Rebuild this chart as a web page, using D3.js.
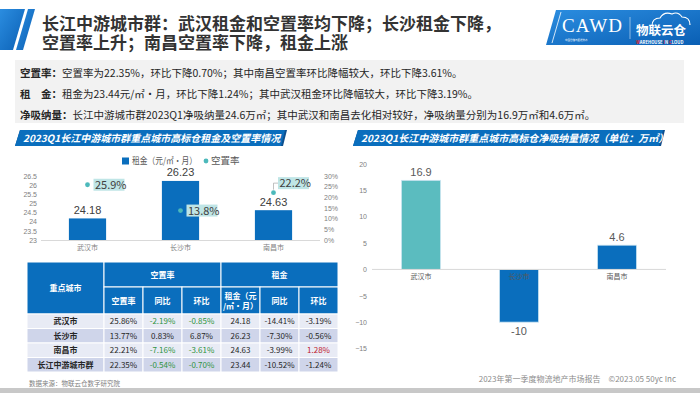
<!DOCTYPE html>
<html>
<head>
<meta charset="utf-8">
<script src="https://cdn.jsdelivr.net/npm/d3@7/dist/d3.min.js"></script>
<style>
	body{margin:0;background:#ffffff;}
	svg{display:block;font-family:"Noto Sans CJK SC","Noto Sans",sans-serif;}
</style>
</head>
<body>
<div class="slide"></div>
<script>

	// chart data
	var cities = ["武汉市", "长沙市", "南昌市"];
	var rentValues = [24.18, 26.23, 24.63];
	var vacancyValues = [0.259, 0.138, 0.222];
	var rentTicks = [23, 23.5, 24, 24.5, 25, 25.5, 26, 26.5];
	var vacancyTicks = [0, 0.05, 0.1, 0.15, 0.2, 0.25, 0.3];
	var absorbValues = [16.9, -10, 4.6];
	var absorbTicks = [-15, -10, -5, 0, 5, 10, 15, 20];

	// table data
	var tableCities = ["武汉市", "长沙市", "南昌市", "长江中游城市群"];
	var tableVacancy = [25.86, 13.77, 22.21, 22.35];
	var tableVacYoY = [-2.19, 0.83, -7.16, -0.54];
	var tableVacQoQ = [-0.85, 6.87, -3.61, -0.70];
	var tableRent = [24.18, 26.23, 24.63, 23.44];
	var tableRentYoY = [-14.41, -7.30, -3.99, -10.52];
	var tableRentQoQ = [-3.19, -0.56, 1.28, -1.24];
	var tableSubHeads = ["空置率", "同比", "环比", "租金（元|/㎡·月）", "同比", "环比"];

	// texts
	var titleLines = ["长江中游城市群：武汉租金和空置率均下降；长沙租金下降，", "空置率上升；南昌空置率下降，租金上涨"];
	var summaryLines = [
		["空置率：", "空置率为22.35%，环比下降0.70%；其中南昌空置率环比降幅较大，环比下降3.61%。"],
		["租　金：", "租金为23.44元/㎡·月，环比下降1.24%；其中武汉租金环比降幅较大，环比下降3.19%。"],
		["净吸纳量：", "长江中游城市群2023Q1净吸纳量24.6万㎡；其中武汉和南昌去化相对较好，净吸纳量分别为16.9万㎡和4.6万㎡。"]
	];

	var blue = "#0a6ebd";
	var teal = "#4cb9bb";
	var numFont = "'Liberation Sans', Arial, sans-serif";

	var svg = d3.select(".slide")
		.append("svg")
		.attr("width", 700)
		.attr("height", 393);

	var defs = svg.append("defs");
	var grad = defs.append("linearGradient").attr("id", "blueGrad")
		.attr("x1", "0").attr("y1", "0").attr("x2", "1").attr("y2", "1");
	grad.append("stop").attr("offset", "0%").attr("stop-color", "#2b8de0");
	grad.append("stop").attr("offset", "100%").attr("stop-color", "#0a5fb4");

	drawHeader();
	drawSummary();
	drawRentChart();
	drawTable();
	drawAbsorbChart();
	drawFooter();

// title, icon and logo
function drawHeader(){
	svg.append("polygon")
		.attr("points", "0,9 25,9 13,50 0,50")
		.attr("fill", "url(#blueGrad)");
	svg.append("polygon")
		.attr("points", "28,9 35,9 23,50 16,50")
		.attr("fill", "url(#blueGrad)");

	// two-line title as one text block
	svg.append("text")
		.attr("class", "title")
		.attr("y", 30)
		.attr("font-size", "17px")
		.attr("font-weight", "bold")
		.attr("fill", "#333333")
		.selectAll("tspan")
		.data(titleLines)
		.enter()
		.append("tspan")
		.attr("x", 42)
		.attr("dy", function(d, i){ return i == 0 ? 0 : 19; })
		.text(function(d){ return d; });

	// logo box
	var logo = svg.append("g");
	logo.append("polygon")
		.attr("points", "556,10 700,10 700,45 546,45")
		.attr("fill", "url(#blueGrad)");
	logo.append("line")
		.attr("x1", 561).attr("y1", 12).attr("x2", 552).attr("y2", 43)
		.attr("stroke", "#ffffff").attr("stroke-width", 0.8);
	logo.append("text")
		.attr("x", 562).attr("y", 32)
		.attr("font-family", "'Liberation Serif', serif")
		.attr("font-size", "19px")
		.attr("fill", "#ffffff")
		.attr("textLength", 60)
		.text("CAWD");
	logo.append("text")
		.attr("x", 565).attr("y", 41)
		.attr("font-size", "2.5px")
		.attr("fill", "#ffffff")
		.text("中国仓储与配送协会");
	logo.append("line")
		.attr("x1", 630).attr("y1", 17).attr("x2", 630).attr("y2", 39)
		.attr("stroke", "#ffffff").attr("stroke-opacity", 0.5);
	logo.append("path")
		.attr("d", "M652,26 q0,-8 8,-8 q4,-7 12,-4 q6,-3 10,3 q8,0 8,8")
		.attr("fill", "none").attr("stroke", "#ffffff").attr("stroke-width", 1.2);
	logo.append("text")
		.attr("x", 636).attr("y", 35)
		.attr("font-size", "12.5px")
		.attr("font-weight", "bold")
		.attr("fill", "#ffffff")
		.text("物联云仓");
	var sub = logo.append("text")
		.attr("x", 636).attr("y", 43.5)
		.attr("font-size", "4.2px")
		.attr("font-weight", "bold")
		.attr("fill", "#ffffff");
	[["W", "#e2262f"], ["AREHOUSE ", "#ffffff"], ["I", "#e2262f"], ["N ", "#ffffff"], ["C", "#e2262f"], ["LOUD", "#ffffff"]]
		.forEach(function(p){
			sub.append("tspan").attr("fill", p[1]).text(p[0]);
		});
}

// grey box with the three summary lines
function drawSummary(){
	svg.append("rect")
		.attr("x", 15).attr("y", 60)
		.attr("width", 669).attr("height", 63)
		.attr("fill", "#f2f2f2");

	var lines = svg.selectAll(".summary")
		.data(summaryLines)
		.enter()
		.append("text")
		.attr("class", "summary")
		.attr("x", 20)
		.attr("y", function(d, i){ return 77 + i*21; })
		.attr("font-size", "10.5px")
		.attr("fill", "#262626");
	lines.append("tspan").attr("font-weight", "bold").text(function(d){ return d[0]; });
	lines.append("tspan").text(function(d){ return d[1]; });
}

// section banner
function banner(x, y, w, label){
	svg.append("polygon")
		.attr("points", [[x+5, y], [x+w+2, y], [x+w-2, y+16], [x, y+16]].join(" "))
		.attr("fill", "#0d4f8f");
	svg.append("polygon")
		.attr("points", [[x+5, y], [x+w, y], [x+w-4, y+16], [x, y+16]].join(" "))
		.attr("fill", blue);
	svg.append("text")
		.attr("x", x+8).attr("y", y+12)
		.attr("font-size", "10px")
		.attr("font-weight", "bold")
		.attr("font-style", "italic")
		.attr("fill", "#ffffff")
		.text(label);
}

// left chart: rent bars + vacancy dots
function drawRentChart(){
	banner(15, 130, 270, "2023Q1长江中游城市群重点城市高标仓租金及空置率情况");

	var x = d3.scaleBand().domain(cities).range([41, 320]).paddingInner(0.6).paddingOuter(0.3);
	var y = d3.scaleLinear().domain([23, 26.5]).range([240, 176]);
	var yR = d3.scaleLinear().domain([0, 0.3]).range([240, 176]);

	var axL = svg.append("g")
		.attr("transform", "translate(40,0)")
		.call(d3.axisLeft(y).tickValues(rentTicks).tickSize(0).tickPadding(3).tickFormat(d3.format("")));
	var axR = svg.append("g")
		.attr("transform", "translate(320,0)")
		.call(d3.axisRight(yR).tickValues(vacancyTicks).tickSize(0).tickPadding(4).tickFormat(d3.format(".0%")));
	[axL, axR].forEach(function(a){
		a.select(".domain").remove();
		a.selectAll("text").attr("font-size", "7px").attr("fill", "#7f7f7f").attr("font-family", "inherit");
	});

	svg.append("line")
		.attr("x1", 41).attr("x2", 320)
		.attr("y1", 240.5).attr("y2", 240.5)
		.attr("stroke", "#d9d9d9");

	svg.selectAll(".rentBar")
		.data(rentValues)
		.enter()
		.append("rect")
		.attr("class", "rentBar")
		.attr("x", function(d, i){ return x(cities[i]); })
		.attr("width", x.bandwidth())
		.attr("y", function(d){ return y(d); })
		.attr("height", function(d){ return 240 - y(d); })
		.attr("fill", blue);

	svg.selectAll(".rentLabel")
		.data(rentValues)
		.enter()
		.append("text")
		.attr("class", "rentLabel")
		.attr("text-anchor", "middle")
		.attr("x", function(d, i){ return x(cities[i]) + x.bandwidth()/2; })
		.attr("y", function(d){ return y(d) - 4.5; })
		.attr("font-family", numFont)
		.attr("font-size", "11px")
		.attr("fill", "#404040")
		.text(function(d){ return d.toFixed(2); });

	svg.selectAll(".cat")
		.data(cities)
		.enter()
		.append("text")
		.attr("class", "cat")
		.attr("text-anchor", "middle")
		.attr("x", function(d){ return x(d) + x.bandwidth()/2; })
		.attr("y", 250)
		.attr("font-size", "7px")
		.attr("fill", "#7f7f7f")
		.text(function(d){ return d; });

	// vacancy labels
	vacancyValues.forEach(function(v, i){
		var cx = x(cities[i]) + x.bandwidth()/2;
		var cy = yR(v);
		var bx = cx + 6, by = cy - 6;
		if(i == 2){
			bx = cx + 4.5; by = cy - 15.5;
			svg.append("polyline")
				.attr("points", [[cx, cy-3], [cx, by+6], [bx, by+6]].join(" "))
				.attr("fill", "none")
				.attr("stroke", "#a6a6a6")
				.attr("stroke-width", 0.7);
		}
		svg.append("rect")
			.attr("x", bx).attr("y", by)
			.attr("width", 31).attr("height", 12)
			.attr("fill", "#bfe5e6");
		svg.append("text")
			.attr("x", bx + 1.5).attr("y", by + 10)
			.attr("font-size", "11px")
			.attr("fill", "#404040")
			.text(d3.format(".1%")(v));
		svg.append("circle")
			.attr("cx", cx).attr("cy", cy)
			.attr("r", 2.4)
			.attr("fill", teal);
	});

	// legend
	svg.append("rect")
		.attr("x", 122).attr("y", 157.5)
		.attr("width", 7).attr("height", 7)
		.attr("fill", blue);
	svg.append("text")
		.attr("x", 132).attr("y", 164.3)
		.attr("font-size", "9px")
		.attr("fill", "#595959")
		.attr("textLength", 65)
		.attr("lengthAdjust", "spacingAndGlyphs")
		.text("租金（元/㎡·月）");
	svg.append("circle")
		.attr("cx", 206).attr("cy", 161)
		.attr("r", 2.4)
		.attr("fill", teal);
	svg.append("text")
		.attr("x", 211).attr("y", 164.3)
		.attr("font-size", "9.5px")
		.attr("fill", "#595959")
		.text("空置率");
}

// table under the left chart
function drawTable(){
	var colX = [27, 104, 143, 182, 221, 260, 299, 338];
	var rowY = [314, 328.5, 343, 357.5, 372];
	var pct = function(v){ return v.toFixed(2) + "%"; };
	var green = "#2f9340", red = "#c0202e";

	var g = svg.append("g").attr("font-size", "8px");

	// header cells
	var heads = [
		{x0: 0, x1: 1, y0: 262, y1: 314, t: "重点城市"},
		{x0: 1, x1: 4, y0: 262, y1: 287, t: "空置率"},
		{x0: 4, x1: 7, y0: 262, y1: 287, t: "租金"}
	];
	tableSubHeads.forEach(function(t, i){
		heads.push({x0: i+1, x1: i+2, y0: 287, y1: 314, t: t});
	});
	heads.forEach(function(h){
		g.append("rect")
			.attr("x", colX[h.x0]).attr("y", h.y0)
			.attr("width", colX[h.x1] - colX[h.x0]).attr("height", h.y1 - h.y0)
			.attr("fill", blue)
			.attr("stroke", "#ffffff").attr("stroke-width", 1);
		var parts = h.t.split("|");
		parts.forEach(function(p, k){
			g.append("text")
				.attr("text-anchor", "middle")
				.attr("x", (colX[h.x0] + colX[h.x1]) / 2)
				.attr("y", (h.y0 + h.y1) / 2 + 3 + (k - (parts.length - 1) / 2) * 10)
				.attr("font-weight", "bold")
				.attr("fill", "#ffffff")
				.text(p);
		});
	});

	tableCities.forEach(function(c, r){
		var cells = [
			[c, "#262626"],
			[pct(tableVacancy[r]), "#262626"],
			[pct(tableVacYoY[r]), tableVacYoY[r] < 0 ? green : "#262626"],
			[pct(tableVacQoQ[r]), tableVacQoQ[r] < 0 ? green : "#262626"],
			[tableRent[r].toFixed(2), "#262626"],
			[pct(tableRentYoY[r]), tableRentYoY[r] > 0 ? red : "#262626"],
			[pct(tableRentQoQ[r]), tableRentQoQ[r] > 0 ? red : "#262626"]
		];
		cells.forEach(function(cell, k){
			g.append("rect")
				.attr("x", colX[k]).attr("y", rowY[r])
				.attr("width", colX[k+1] - colX[k]).attr("height", rowY[r+1] - rowY[r])
				.attr("fill", r % 2 == 0 ? "#e8ebf5" : "#cfd5ea")
				.attr("stroke", "#ffffff").attr("stroke-width", 1);
			g.append("text")
				.attr("text-anchor", "middle")
				.attr("x", (colX[k] + colX[k+1]) / 2)
				.attr("y", (rowY[r] + rowY[r+1]) / 2 + 3)
				.attr("font-weight", k == 0 ? "bold" : "normal")
				.attr("fill", cell[1])
				.text(cell[0]);
		});
	});

	svg.append("text")
		.attr("x", 29).attr("y", 386)
		.attr("font-size", "6.5px")
		.attr("fill", "#7f7f7f")
		.text("数据来源：物联云仓数字研究院");
}

// right chart: net absorption
function drawAbsorbChart(){
	banner(353, 130, 310, "2023Q1长江中游城市群重点城市高标仓净吸纳量情况（单位：万㎡）");

	var x = d3.scaleBand().domain(cities).range([372, 666]).paddingInner(0.6).paddingOuter(0.3);
	var y = d3.scaleLinear().domain([-15, 20]).range([348.5, 164]);

	var ax = svg.append("g")
		.attr("transform", "translate(371,0)")
		.call(d3.axisLeft(y).tickValues(absorbTicks).tickSize(0).tickPadding(4));
	ax.select(".domain").remove();
	ax.selectAll("text").attr("font-size", "7px").attr("fill", "#7f7f7f").attr("font-family", "inherit");

	svg.selectAll(".absBar")
		.data(absorbValues)
		.enter()
		.append("rect")
		.attr("class", "absBar")
		.attr("x", function(d, i){ return x(cities[i]); })
		.attr("width", x.bandwidth())
		.attr("y", function(d){ return y(Math.max(0, d)); })
		.attr("height", function(d){ return Math.abs(y(d) - y(0)); })
		.attr("fill", function(d, i){ return i == 0 ? "#5bbcbf" : blue; })
		.attr("stroke", "#cde6f2")
		.attr("stroke-width", 0.8);

	svg.append("line")
		.attr("x1", 372).attr("x2", 666)
		.attr("y1", y(0)).attr("y2", y(0))
		.attr("stroke", "#d9d9d9");

	svg.selectAll(".absLabel")
		.data(absorbValues)
		.enter()
		.append("text")
		.attr("class", "absLabel")
		.attr("text-anchor", "middle")
		.attr("x", function(d, i){ return x(cities[i]) + x.bandwidth()/2; })
		.attr("y", function(d){ return d >= 0 ? y(d) - 4.5 : y(d) + 13; })
		.attr("font-family", numFont)
		.attr("font-size", "11px")
		.attr("fill", "#595959")
		.text(function(d){ return d; });

	svg.selectAll(".absCat")
		.data(cities)
		.enter()
		.append("text")
		.attr("class", "absCat")
		.attr("text-anchor", "middle")
		.attr("x", function(d){ return x(d) + x.bandwidth()/2; })
		.attr("y", y(0) + 10)
		.attr("font-size", "7px")
		.attr("fill", "#595959")
		.text(function(d){ return d; });
}

function drawFooter(){
	svg.append("text")
		.attr("x", 676).attr("y", 382)
		.attr("text-anchor", "end")
		.attr("font-size", "8px")
		.attr("fill", "#8c8c8c")
		.text("2023年第一季度物流地产市场报告　©2023.05 50yc Inc");
	svg.append("rect")
		.attr("x", 0).attr("y", 388)
		.attr("width", 700).attr("height", 5)
		.attr("fill", "#c8c8c8");
}

</script>
</body>
</html>
